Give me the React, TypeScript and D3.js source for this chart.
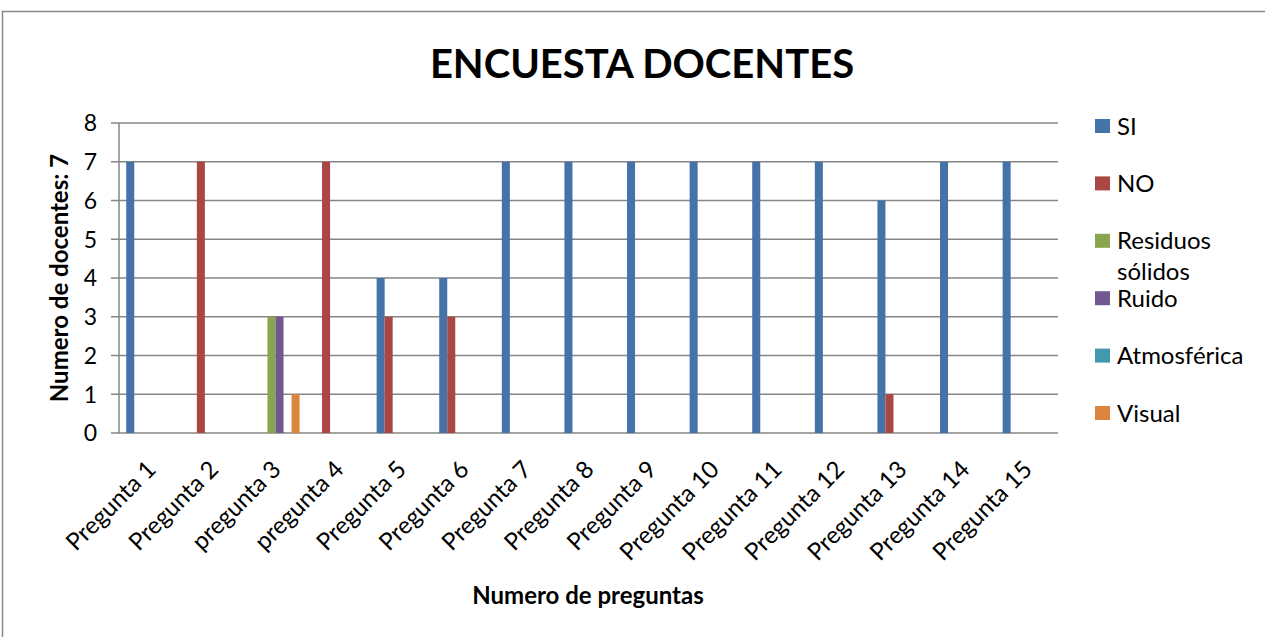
import React, { useEffect, useRef } from 'react';
import * as d3 from 'd3';

const categories = [
  'Pregunta 1', 'Pregunta 2', 'pregunta 3', 'pregunta 4', 'Pregunta 5',
  'Pregunta 6', 'Pregunta 7', 'Pregunta 8', 'Pregunta 9', 'Pregunta 10',
  'Pregunta 11', 'Pregunta 12', 'Pregunta 13', 'Pregunta 14', 'Pregunta 15',
];
const seriesNames = ['SI', 'NO', 'Residuos sólidos', 'Ruido', 'Atmosférica', 'Visual'];
const seriesColors = ['#4572A7', '#AA4643', '#89A54E', '#71588F', '#4198AF', '#DB843D'];

const siValues = [7, 0, 0, 0, 4, 4, 7, 7, 7, 7, 7, 7, 6, 7, 7];
const noValues = [0, 7, 0, 7, 3, 3, 0, 0, 0, 0, 0, 0, 1, 0, 0];
const residuosValues = [0, 0, 3, 0, 0, 0, 0, 0, 0, 0, 0, 0, 0, 0, 0];
const ruidoValues = [0, 0, 3, 0, 0, 0, 0, 0, 0, 0, 0, 0, 0, 0, 0];
const atmosfericaValues = [0, 0, 0, 0, 0, 0, 0, 0, 0, 0, 0, 0, 0, 0, 0];
const visualValues = [0, 0, 1, 0, 0, 0, 0, 0, 0, 0, 0, 0, 0, 0, 0];

const yTicks = [0, 1, 2, 3, 4, 5, 6, 7, 8];

const FONT = 'Lato, "Open Sans", sans-serif';

export default function App() {
  const ref = useRef<SVGSVGElement>(null);

  useEffect(() => {
    if (!ref.current) return;
    const svg = d3.select(ref.current);
    svg.selectAll('*').remove();

    const W = 1265, H = 637;
    const left = 119, right = 1058, top = 123, bottom = 433;
    const allValues = [siValues, noValues, residuosValues, ruidoValues, atmosfericaValues, visualValues];

    // outer chart border
    svg.append('rect')
      .attr('x', 2.5).attr('y', 11.5)
      .attr('width', W + 10).attr('height', H + 10)
      .attr('fill', '#fff').attr('stroke', '#898989').attr('stroke-width', 1.5);

    const x0 = d3.scaleBand<string>().domain(categories).range([left, right]).padding(0);
    const x1 = d3.scaleBand<string>().domain(seriesNames).range([0, x0.bandwidth()]).paddingInner(0).paddingOuter(0.9);
    const y = d3.scaleLinear().domain([0, 8]).range([bottom, top]);

    // gridlines
    svg.append('g').selectAll('line').data(yTicks).enter().append('line')
      .attr('x1', left - 8).attr('x2', right)
      .attr('y1', d => y(d)).attr('y2', d => y(d))
      .attr('stroke', '#868686').attr('stroke-width', 1.5);

    // y axis line
    svg.append('line')
      .attr('x1', left).attr('x2', left).attr('y1', top).attr('y2', bottom)
      .attr('stroke', '#868686').attr('stroke-width', 1.5);

    // y tick labels
    svg.append('g').selectAll('text').data(yTicks).enter().append('text')
      .attr('x', 97).attr('y', d => y(d)).attr('dy', '0.36em')
      .attr('text-anchor', 'end')
      .style('font-family', FONT).style('font-size', '23px').attr('fill', '#000')
      .text(d => d);

    // bars
    seriesNames.forEach((s, si) => {
      svg.append('g').selectAll('rect')
        .data(allValues[si].map((v, i) => ({ cat: categories[i], v })))
        .enter().append('rect')
        .attr('x', d => (x0(d.cat) || 0) + (x1(s) || 0))
        .attr('y', d => y(d.v))
        .attr('width', x1.bandwidth())
        .attr('height', d => bottom - y(d.v))
        .attr('fill', seriesColors[si]);
    });

    // x labels
    svg.append('g').selectAll('text').data(categories).enter().append('text')
      .attr('transform', d => `translate(${(x0(d) || 0) + x0.bandwidth() / 2 + 1},${bottom + 32}) rotate(-45)`)
      .attr('text-anchor', 'end')
      .attr('dy', '0.35em')
      .style('font-family', FONT).style('font-size', '24px').attr('fill', '#000')
      .text(d => d);

    // title
    svg.append('text')
      .attr('x', 642).attr('y', 78).attr('text-anchor', 'middle')
      .style('font-family', FONT).style('font-size', '40px').style('font-weight', 'bold')
      .text('ENCUESTA DOCENTES');

    // axis titles
    svg.append('text')
      .attr('x', 588).attr('y', 604).attr('text-anchor', 'middle')
      .style('font-family', FONT).style('font-size', '24px').style('font-weight', 'bold')
      .text('Numero de preguntas');

    svg.append('text')
      .attr('transform', `translate(68,${(top + bottom) / 2}) rotate(-90)`)
      .attr('text-anchor', 'middle')
      .style('font-family', FONT).style('font-size', '24px').style('font-weight', 'bold')
      .text('Numero de docentes: 7');

    // legend
    const legendY = d3.scalePoint<string>().domain(seriesNames).range([126, 413]);
    const lg = svg.append('g');
    seriesNames.forEach((s, i) => {
      const cy = legendY(s) || 0;
      lg.append('rect')
        .attr('x', 1095).attr('y', cy - 7).attr('width', 15).attr('height', 14)
        .attr('fill', seriesColors[i]);
      const words = s.split(' ');
      const t = lg.append('text')
        .attr('x', 1117).attr('y', cy)
        .style('font-family', FONT).style('font-size', '24px').attr('fill', '#000');
      words.forEach((w, j) => {
        t.append('tspan').attr('x', 1117).attr('dy', j === 0 ? '0.36em' : '31px').text(w);
      });
    });
  }, []);

  return (
    <svg ref={ref} width={1265} height={637}
      style={{ position: 'absolute', left: 0, top: 0, background: '#fff' }} />
  );
}
